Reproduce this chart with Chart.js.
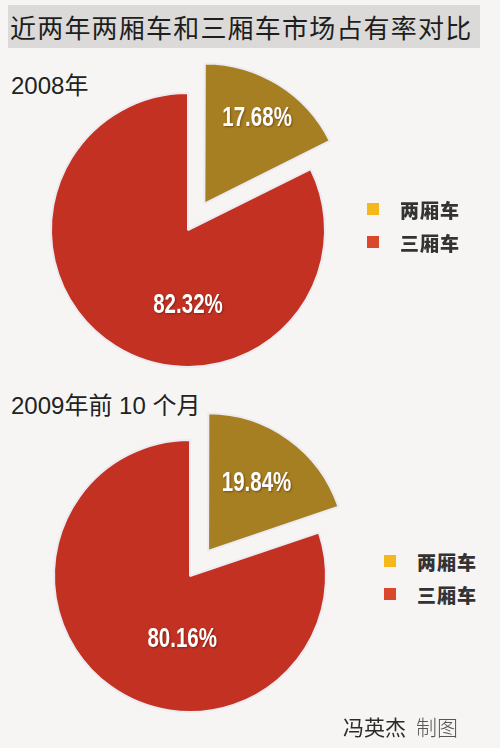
<!DOCTYPE html>
<html>
<head>
<meta charset="utf-8">
<script src="https://cdn.jsdelivr.net/npm/chart.js@4.4.1/dist/chart.umd.min.js"></script>
<style>
    html, body { margin: 0; padding: 0; }
    body { width: 500px; height: 748px; position: relative; overflow: hidden; background: #f6f5f3; font-family: 'Noto Sans CJK SC', sans-serif; }
    .title { position: absolute; left: 8px; top: 5px; width: 472px; height: 43px; background: #dbdad8; color: #1e1e1e; font-size: 26px; line-height: 43px; letter-spacing: 1.2px; text-indent: 2px; white-space: nowrap; }
    .period { position: absolute; left: 11px; font-family: 'Liberation Sans', 'Noto Sans CJK SC', sans-serif; font-size: 24px; color: #222; white-space: nowrap; }
    .period span { font-family: 'Noto Sans CJK SC', sans-serif; }
    canvas { position: absolute; left: 0; }
    .legend { position: absolute; }
    .legend div { position: relative; height: 33px; line-height: 33px; font-size: 19px; font-weight: bold; color: #333; letter-spacing: 1px; white-space: nowrap; }
    .legend i { position: absolute; left: 0; top: 10px; width: 12px; height: 12px; }
    .legend b { position: absolute; left: 33px; top: 0; }
    .credit { position: absolute; left: 343px; top: 711px; font-size: 21px; color: #2a2a2a; white-space: nowrap; }
    .credit span { color: #555; font-weight: 300; margin-left: 10px; }
</style>
</head>
<body>
<div class="title">近两年两厢车和三厢车市场占有率对比</div>
<div class="period" style="top:66px">2008<span>年</span></div>
<div class="period" style="top:386px">2009<span>年前</span> 10 <span>个月</span></div>
<canvas id="pie2008" width="376" height="340" style="top:60px"></canvas>
<canvas id="pie2009" width="380" height="340" style="top:406px"></canvas>
<div class="legend" id="legend2008" style="left:367px; top:193px"></div>
<div class="legend" id="legend2009" style="left:384px; top:545px"></div>
<div class="credit">冯英杰<span>制图</span></div>
<script>
// Market share of hatchbacks vs sedans
const categories = ['两厢车', '三厢车'];
const share2008 = [17.68, 82.32];
const share2009 = [19.84, 80.16];

const sliceColors = ['#a67f22', '#c33123'];
const legendColors = ['#f4b81c', '#d9472c'];

// Draws the percentage inside each slice (condensed by squeezing the x axis)
const sliceLabels = {
    id: 'sliceLabels',
    afterDatasetsDraw(chart, args, opts) {
        const ctx = chart.ctx;
        const meta = chart.getDatasetMeta(0);
        const data = chart.data.datasets[0].data;
        const offsets = chart.data.datasets[0].offset || [];
        meta.data.forEach((arc, i) => {
            const p = arc.getProps(['x', 'y', 'startAngle', 'endAngle', 'outerRadius'], true);
            const mid = (p.startAngle + p.endAngle) / 2;
            const place = opts.place[i];
            const ang = place.angle != null ? (place.angle - 90) * Math.PI / 180 : mid;
            const shift = (offsets[i] || 0) / 4;
            const x = p.x + Math.cos(mid) * shift + Math.cos(ang) * p.outerRadius * place.r;
            const y = p.y + Math.sin(mid) * shift + Math.sin(ang) * p.outerRadius * place.r;
            ctx.save();
            ctx.translate(x, y);
            ctx.scale(0.76, 1);
            ctx.font = "bold 27px 'Liberation Sans', Arial, sans-serif";
            ctx.fillStyle = '#ffffff';
            ctx.textAlign = 'center';
            ctx.textBaseline = 'middle';
            ctx.shadowColor = 'rgba(60,20,0,0.45)';
            ctx.shadowBlur = 2;
            ctx.shadowOffsetX = 1;
            ctx.shadowOffsetY = 1;
            ctx.fillText(data[i].toFixed(2) + '%', 0, 0);
            ctx.restore();
        });
    }
};

function createPie(id, values, radius, place) {
    return new Chart(document.getElementById(id), {
        type: 'pie',
        data: {
            labels: categories,
            datasets: [{
                data: values,
                backgroundColor: sliceColors,
                borderColor: '#ecebf1',
                borderWidth: 2,
                offset: [124, 0]
            }]
        },
        options: {
            responsive: false,
            animation: false,
            radius: radius,
            layout: { padding: 0 },
            plugins: {
                legend: { display: false },
                tooltip: { enabled: false },
                sliceLabels: { place }
            }
        },
        plugins: [sliceLabels]
    });
}

function buildLegend(id) {
    const box = document.getElementById(id);
    categories.forEach((name, i) => {
        const row = document.createElement('div');
        row.innerHTML = '<i style="background:' + legendColors[i] + '"></i><b>' + name + '</b>';
        box.appendChild(row);
    });
}

createPie('pie2008', share2008, 137, [{ r: 0.73 }, { angle: 180, r: 0.55 }]);
createPie('pie2009', share2009, 136, [{ r: 0.61 }, { angle: 187, r: 0.47 }]);
buildLegend('legend2008');
buildLegend('legend2009');
</script>
</body>
</html>
